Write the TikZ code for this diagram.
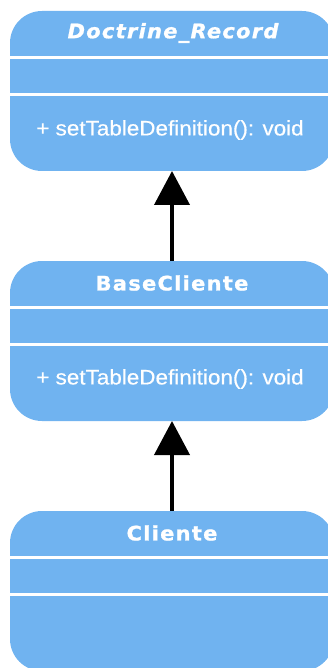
\documentclass[tikz,border=0pt]{standalone}
\usepackage{fontspec}
\usepackage{graphicx}
\usetikzlibrary{arrows.meta,calc}
\newfontfamily\titlefont[LetterSpace=6,FakeBold=1]{DejaVu Sans}
\newfontfamily\methfont[FakeBold=0.4]{Liberation Sans}
\definecolor{boxblue}{RGB}{112,179,240}
\tikzset{
  cls/.style={rectangle, rounded corners=32pt, fill=boxblue, minimum width=324pt,
    minimum height=160pt, inner sep=0pt, outer sep=0pt},
  sepline/.style={draw=white, line width=3pt},
  ttl/.style={text=white, inner sep=0pt, font=\titlefont\fontsize{20}{22}\selectfont\bfseries},
  meth/.style={text=white, inner sep=0pt, font=\methfont\fontsize{21}{25}\selectfont},
  inh/.style={draw=black, line width=4pt, -{Triangle[length=34pt,width=35pt]}}
}
\begin{document}
\begin{tikzpicture}[x=1pt,y=-1pt]
\useasboundingbox (0,0) rectangle (328,668);
% class boxes
\node[cls] (b1) at (172,91) {};
\node[cls] (b2) at (172,341) {};
\node[cls] (b3) at (172,591) {};
% separators
\foreach \b in {b1,b2,b3}{
  \draw[sepline] ([yshift=-46.5pt]\b.north west) -- ([yshift=-46.5pt]\b.north east);
  \draw[sepline] ([yshift=-83.5pt]\b.north west) -- ([yshift=-83.5pt]\b.north east);
}
% titles
\node[ttl] (t1) at ($(b1.north)+(1,22)$) {\scalebox{1.05}[1]{\itshape Doctrine\_Record}};
\node[ttl] (t2) at ($(b2.north)+(0,22)$) {\scalebox{1.05}[1]{BaseCliente}};
\node[ttl] (t3) at ($(b3.north)+(0,22)$) {\scalebox{1.05}[1]{Cliente}};
% methods
\node[meth] (m1) at ($(b1.north)+(-2,119)$) {\scalebox{1.07}[1]{+ setTableDefinition(): void}};
\node[meth] (m2) at ($(b2.north)+(-2,118)$) {\scalebox{1.07}[1]{+ setTableDefinition(): void}};
% inheritance arrows
\draw[inh] (b2.north) -- (b1.south);
\draw[inh] (b3.north) -- (b2.south);
\end{tikzpicture}
\end{document}
